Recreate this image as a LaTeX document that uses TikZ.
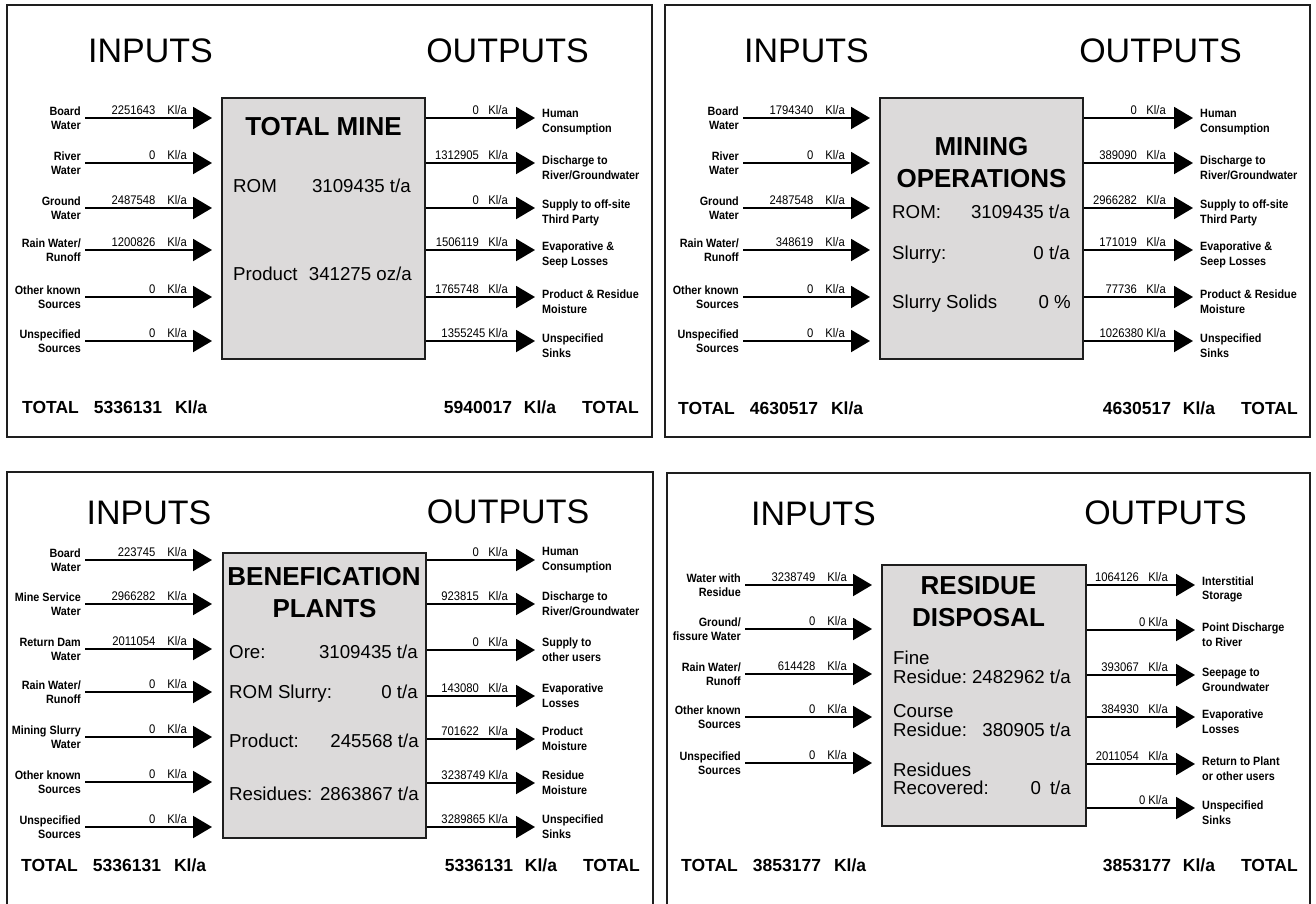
\documentclass[tikz,border=0pt]{standalone}
\usepackage{fontspec}
\setmainfont{Liberation Sans}
\newfontfamily\narrowfont[FakeStretch=0.9]{Liberation Sans}
\usetikzlibrary{arrows.meta}
\definecolor{boxgray}{RGB}{220,218,218}
\definecolor{edge}{RGB}{30,30,30}
\tikzset{
  panelframe/.style={draw=edge, line width=2.4pt},
  procbox/.style={draw=edge, line width=2pt, fill=boxgray, inner sep=0pt},
  flowarrow/.style={line width=2pt, -{Triangle[length=19pt,width=22pt]}},
  inlbl/.style={anchor=east, align=right, inner sep=0pt, font=\narrowfont\bfseries\fontsize{12}{14.3}\selectfont},
  outlbl/.style={anchor=west, align=left, inner sep=0pt, font=\narrowfont\bfseries\fontsize{12}{14.8}\selectfont},
  valtxt/.style={anchor=base east, inner sep=0pt, font=\narrowfont\fontsize{12.5}{14}\selectfont},
  hdr/.style={anchor=base, inner sep=0pt, font=\fontsize{34}{40}\selectfont},
  ttl/.style={anchor=base, inner sep=0pt, font=\bfseries\fontsize{26}{31}\selectfont},
  bdy/.style={anchor=base west, inner sep=0pt, font=\fontsize{18.7}{19.5}\selectfont},
  bdyv/.style={anchor=base east, inner sep=0pt, font=\fontsize{18.7}{19.5}\selectfont},
  totl/.style={anchor=base west, inner sep=0pt, font=\bfseries\fontsize{17.5}{20}\selectfont},
  totr/.style={anchor=base east, inner sep=0pt, font=\bfseries\fontsize{17.5}{20}\selectfont},
}
\newcommand\kla[1]{#1\hspace{12pt}Kl/a}
\newcommand\klo[1]{#1\hspace{9.5pt}Kl/a}
\newcommand\klt[1]{#1 Kl/a}
\newcommand\inflow[4]{%
  \coordinate (#1s) at (85,#2);
  \coordinate (#1t) at (212,#2);
  \draw[flowarrow] (#1s) -- (#1t);
  \node[inlbl] (#1l) at (81,#2+0.5) {#3};
  \node[valtxt] (#1v) at (187,#2-4) {#4};
}
\newcommand\outflow[5]{%
  \coordinate (#1t) at (535,#3);
  \draw[flowarrow] (#2.east |- #1t) -- (#1t);
  \node[valtxt] (#1v) at (508,#3-3.5) {#4};
  \node[outlbl] (#1l) at (542,#3+\outdy) {#5};
}
\begin{document}
\begin{tikzpicture}[x=1pt,y=-1pt]
\useasboundingbox (0,0) rectangle (1316,903);

% ---------------- Panel 1: TOTAL MINE
\draw[panelframe] (7,5) rectangle (652,437);
\begin{scope}
\def\outdy{4.5}
\node[hdr] (p1hi) at (150.5,62) {INPUTS};
\node[hdr] (p1ho) at (507.5,62) {OUTPUTS};
\node[procbox, minimum width=203pt, minimum height=261pt] (p1b) at (323.5,228.5) {};
\node[ttl] (p1t) at (323.5,135) {TOTAL MINE};
\node[bdy] (p1r) at (233,192.5) {ROM};
\node[bdyv] (p1rv) at (411,192.5) {3109435 t/a};
\node[bdy] (p1p) at (233,280) {Product};
\node[bdyv] (p1pv) at (412,280) {341275 oz/a};
\inflow{p1i1}{118}{Board\\Water}{\kla{2251643}}
\inflow{p1i2}{163}{River\\Water}{\kla{0}}
\inflow{p1i3}{208}{Ground\\Water}{\kla{2487548}}
\inflow{p1i4}{250}{Rain Water/\\Runoff}{\kla{1200826}}
\inflow{p1i5}{297}{Other known\\Sources}{\kla{0}}
\inflow{p1i6}{341}{Unspecified\\Sources}{\kla{0}}
\outflow{p1o1}{p1b}{118}{\klo{0}}{Human\\Consumption}
\outflow{p1o2}{p1b}{163}{\klo{1312905}}{Discharge to\\River/Groundwater}
\outflow{p1o3}{p1b}{208}{\klo{0}}{Supply to off-site\\Third Party}
\outflow{p1o4}{p1b}{250}{\klo{1506119}}{Evaporative \&\\Seep Losses}
\outflow{p1o5}{p1b}{297}{\klo{1765748}}{Product \& Residue\\Moisture}
\outflow{p1o6}{p1b}{341}{\klt{1355245}}{Unspecified\\Sinks}
\node[totl] (p1tl) at (22,413) {TOTAL\hspace{15pt}5336131\hspace{13pt}Kl/a};
\node[totr] (p1tr) at (639,413) {5940017\hspace{12pt}Kl/a\hspace{26pt}TOTAL};
\end{scope}

% ---------------- Panel 2: MINING OPERATIONS
\draw[panelframe] (665,5) rectangle (1310,437);
\begin{scope}[xshift=658pt]
\def\outdy{4.5}
\node[hdr] (p2hi) at (148.5,62) {INPUTS};
\node[hdr] (p2ho) at (502.5,62) {OUTPUTS};
\node[procbox, minimum width=203pt, minimum height=261pt] (p2b) at (323.5,228.5) {};
\node[ttl] (p2t1) at (323.5,155) {MINING};
\node[ttl] (p2t2) at (323.5,187) {OPERATIONS};
\node[bdy] (p2r) at (234,218) {ROM:};
\node[bdyv] (p2rv) at (412,218) {3109435 t/a};
\node[bdy] (p2s) at (234,259) {Slurry:};
\node[bdyv] (p2sv) at (412,259) {0 t/a};
\node[bdy] (p2ss) at (234,308) {Slurry Solids};
\node[bdyv] (p2ssv) at (413,308) {0 \%};
\inflow{p2i1}{118}{Board\\Water}{\kla{1794340}}
\inflow{p2i2}{163}{River\\Water}{\kla{0}}
\inflow{p2i3}{208}{Ground\\Water}{\kla{2487548}}
\inflow{p2i4}{250}{Rain Water/\\Runoff}{\kla{348619}}
\inflow{p2i5}{297}{Other known\\Sources}{\kla{0}}
\inflow{p2i6}{341}{Unspecified\\Sources}{\kla{0}}
\outflow{p2o1}{p2b}{118}{\klo{0}}{Human\\Consumption}
\outflow{p2o2}{p2b}{163}{\klo{389090}}{Discharge to\\River/Groundwater}
\outflow{p2o3}{p2b}{208}{\klo{2966282}}{Supply to off-site\\Third Party}
\outflow{p2o4}{p2b}{250}{\klo{171019}}{Evaporative \&\\Seep Losses}
\outflow{p2o5}{p2b}{297}{\klo{77736}}{Product \& Residue\\Moisture}
\outflow{p2o6}{p2b}{341}{\klt{1026380}}{Unspecified\\Sinks}
\node[totl] (p2tl) at (20,414) {TOTAL\hspace{15pt}4630517\hspace{13pt}Kl/a};
\node[totr] (p2tr) at (640,414) {4630517\hspace{12pt}Kl/a\hspace{26pt}TOTAL};
\end{scope}

% ---------------- Panel 3: BENEFICATION PLANTS
\draw[panelframe] (7,910) -- (7,472) -- (653,472) -- (653,910);
\begin{scope}
\def\outdy{0}
\node[hdr] (p3hi) at (149,524) {INPUTS};
\node[hdr] (p3ho) at (508,523) {OUTPUTS};
\node[procbox, minimum width=203pt, minimum height=285pt] (p3b) at (324.5,695.5) {};
\node[ttl] (p3t1) at (324,585) {BENEFICATION};
\node[ttl] (p3t2) at (324.5,617) {PLANTS};
\node[bdy] (p3a) at (229,658) {Ore:};
\node[bdyv] (p3av) at (418,658) {3109435 t/a};
\node[bdy] (p3b2) at (229,698) {ROM Slurry:};
\node[bdyv] (p3b2v) at (418,698) {0 t/a};
\node[bdy] (p3c) at (229,747.5) {Product:};
\node[bdyv] (p3cv) at (419,747.5) {245568 t/a};
\node[bdy] (p3d) at (229,800) {Residues:};
\node[bdyv] (p3dv) at (419,800) {2863867 t/a};
\inflow{p3i1}{560}{Board\\Water}{\kla{223745}}
\inflow{p3i2}{604}{Mine Service\\Water}{\kla{2966282}}
\inflow{p3i3}{649}{Return Dam\\Water}{\kla{2011054}}
\inflow{p3i4}{692}{Rain Water/\\Runoff}{\kla{0}}
\inflow{p3i5}{737}{Mining Slurry\\Water}{\kla{0}}
\inflow{p3i6}{782}{Other known\\Sources}{\kla{0}}
\inflow{p3i7}{827}{Unspecified\\Sources}{\kla{0}}
\outflow{p3o1}{p3b}{560}{\klo{0}}{Human\\Consumption}
\outflow{p3o2}{p3b}{604}{\klo{923815}}{Discharge to\\River/Groundwater}
\outflow{p3o3}{p3b}{650}{\klo{0}}{Supply to\\other users}
\outflow{p3o4}{p3b}{696}{\klo{143080}}{Evaporative\\Losses}
\outflow{p3o5}{p3b}{739}{\klo{701622}}{Product\\Moisture}
\outflow{p3o6}{p3b}{783}{\klt{3238749}}{Residue\\Moisture}
\outflow{p3o7}{p3b}{827}{\klt{3289865}}{Unspecified\\Sinks}
\node[totl] (p3tl) at (21,871.5) {TOTAL\hspace{15pt}5336131\hspace{13pt}Kl/a};
\node[totr] (p3tr) at (640,871.5) {5336131\hspace{12pt}Kl/a\hspace{26pt}TOTAL};
\end{scope}

% ---------------- Panel 4: RESIDUE DISPOSAL
\draw[panelframe] (667,910) -- (667,473) -- (1310,473) -- (1310,910);
\begin{scope}[xshift=660pt]
\def\outdy{4.5}
\node[hdr] (p4hi) at (153.5,525) {INPUTS};
\node[hdr] (p4ho) at (505.5,524) {OUTPUTS};
\node[procbox, minimum width=204pt, minimum height=261pt] (p4b) at (324,695.5) {};
\node[ttl] (p4t1) at (318.5,594) {RESIDUE};
\node[ttl] (p4t2) at (318.5,626) {DISPOSAL};
\node[bdy] (p4a1) at (233,664) {Fine};
\node[bdy] (p4a2) at (233,683) {Residue:};
\node[bdyv] (p4av) at (411,683) {2482962 t/a};
\node[bdy] (p4b1) at (233,717) {Course};
\node[bdy] (p4b2) at (233,736) {Residue:};
\node[bdyv] (p4bv) at (411,736) {380905 t/a};
\node[bdy] (p4c1) at (233,776) {Residues};
\node[bdy] (p4c2) at (233,794.5) {Recovered:};
\node[bdyv] (p4cv) at (411,794.5) {0\hspace{9pt}t/a};
\inflow{p4i1}{585}{Water with\\Residue}{\kla{3238749}}
\inflow{p4i2}{629}{Ground/\\fissure Water}{\kla{0}}
\inflow{p4i3}{674}{Rain Water/\\Runoff}{\kla{614428}}
\inflow{p4i4}{717}{Other known\\Sources}{\kla{0}}
\inflow{p4i5}{763}{Unspecified\\Sources}{\kla{0}}
\outflow{p4o1}{p4b}{585}{\klo{1064126}}{Interstitial\\Storage}
\outflow{p4o2}{p4b}{630}{\klt{0}}{Point Discharge\\to River}
\outflow{p4o3}{p4b}{675}{\klo{393067}}{Seepage to\\Groundwater}
\outflow{p4o4}{p4b}{717}{\klo{384930}}{Evaporative\\Losses}
\outflow{p4o5}{p4b}{764}{\klo{2011054}}{Return to Plant\\or other users}
\outflow{p4o6}{p4b}{808}{\klt{0}}{Unspecified\\Sinks}
\node[totl] (p4tl) at (21,871.5) {TOTAL\hspace{15pt}3853177\hspace{13pt}Kl/a};
\node[totr] (p4tr) at (638,871.5) {3853177\hspace{12pt}Kl/a\hspace{26pt}TOTAL};
\end{scope}
\end{tikzpicture}
\end{document}
